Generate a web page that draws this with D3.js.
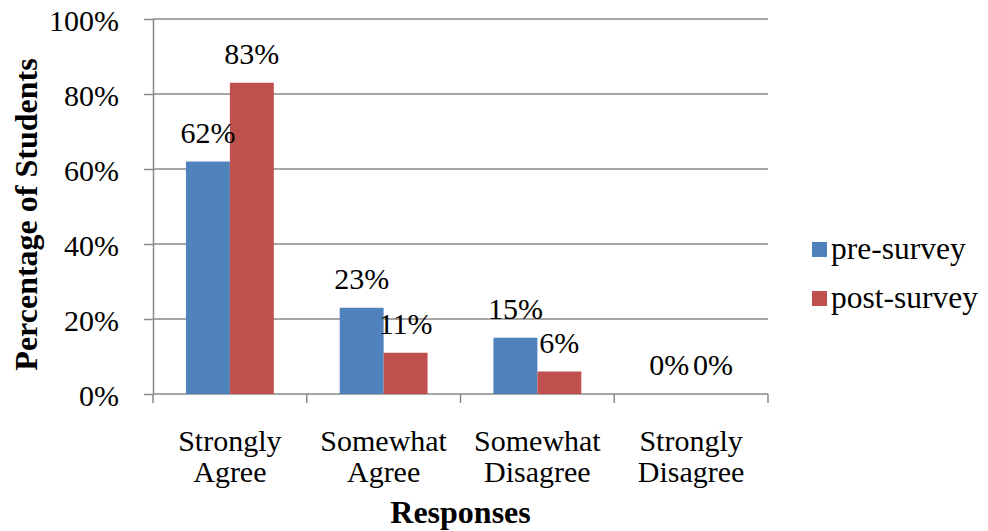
<!DOCTYPE html>
<html>
<head>
<meta charset="utf-8">
<script src="https://cdn.jsdelivr.net/npm/d3@7"></script>
<style>
  html, body { margin: 0; padding: 0; background: #fff; }
  svg { display: block; }
  svg text { font-family: "Liberation Serif", "Times New Roman", serif !important; fill: #000; }
</style>
</head>
<body>
<svg id="chart" width="988" height="531"></svg>
<script>
// Survey responses: share of students per answer, before and after
const categories = [["Strongly", "Agree"], ["Somewhat", "Agree"], ["Somewhat", "Disagree"], ["Strongly", "Disagree"]];
const seriesNames = ["pre-survey", "post-survey"];
const preSurvey = [0.62, 0.23, 0.15, 0.00];
const postSurvey = [0.83, 0.11, 0.06, 0.00];
const yTicks = [0, 0.2, 0.4, 0.6, 0.8, 1.0];
const colors = ["#4F81BD", "#C0504D"];

const svg = d3.select("#chart");
const margin = { left: 153, right: 220, top: 19, bottom: 137 };
const W = 988, H = 531;
const plotW = W - margin.left - margin.right;
const plotH = H - margin.top - margin.bottom;
const g = svg.append("g").attr("transform", `translate(${margin.left},${margin.top})`);

const axisColor = "#898989";
const fontSize = 30;
const legendSize = 31.5;
const titleSize = 32;
const pct = d3.format(".0%");

const catKeys = categories.map((c, i) => i);
const x = d3.scaleBand().domain(catKeys).range([0, plotW]).paddingInner(0).paddingOuter(0);
const xInner = d3.scaleBand().domain(seriesNames).range([0, x.bandwidth()]).paddingInner(0).paddingOuter(0.75);
const y = d3.scaleLinear().domain([0, 1]).range([plotH, 0]);

// horizontal gridlines
g.append("g").selectAll("line").data(yTicks.filter(d => d > 0)).join("line")
  .attr("x1", 0).attr("x2", plotW)
  .attr("y1", d => y(d)).attr("y2", d => y(d))
  .attr("stroke", axisColor).attr("stroke-width", 1.5);

// y axis
const yAxis = g.append("g")
  .call(d3.axisLeft(y).tickValues(yTicks).tickFormat(pct).tickSize(9).tickPadding(25).tickSizeOuter(0));
yAxis.attr("font-family", null).attr("font-size", null);
yAxis.select(".domain").attr("stroke", axisColor).attr("stroke-width", 1.5);
yAxis.selectAll(".tick line").attr("stroke", axisColor).attr("stroke-width", 1.5);
yAxis.selectAll(".tick text")
  .attr("font-size", fontSize).attr("fill", "#000").attr("dy", "0.38em");

// x axis baseline and category boundary ticks
const boundaries = catKeys.map(k => x(k)).concat([x(catKeys[catKeys.length - 1]) + x.bandwidth()]);
g.append("line").attr("x1", 0).attr("x2", plotW).attr("y1", plotH).attr("y2", plotH)
  .attr("stroke", axisColor).attr("stroke-width", 1.5);
g.append("g").selectAll("line").data(boundaries).join("line")
  .attr("x1", d => d).attr("x2", d => d).attr("y1", plotH).attr("y2", plotH + 9)
  .attr("stroke", axisColor).attr("stroke-width", 1.5);

// bars
const rows = catKeys.map(i => ({ i, values: [preSurvey[i], postSurvey[i]] }));
const groups = g.append("g").selectAll("g").data(rows).join("g")
  .attr("transform", d => `translate(${x(d.i)},0)`);
groups.selectAll("rect").data(d => d.values.map((v, s) => ({ v, s }))).join("rect")
  .attr("x", d => xInner(seriesNames[d.s]))
  .attr("width", xInner.bandwidth())
  .attr("y", d => y(d.v))
  .attr("height", d => plotH - y(d.v))
  .attr("fill", d => colors[d.s]);

// value labels
groups.selectAll("text.val").data(d => d.values.map((v, s) => ({ v, s }))).join("text")
  .attr("class", "val")
  .attr("x", d => xInner(seriesNames[d.s]) + xInner.bandwidth() / 2)
  .attr("y", d => y(d.v) - 19)
  .attr("text-anchor", "middle")
  .attr("font-size", fontSize)
  .text(d => pct(d.v));

// category labels (two lines)
const catLabels = g.append("g").selectAll("text").data(catKeys).join("text")
  .attr("x", d => x(d) + x.bandwidth() / 2)
  .attr("y", plotH + 57)
  .attr("text-anchor", "middle")
  .attr("font-size", fontSize);
catLabels.selectAll("tspan").data(d => categories[d]).join("tspan")
  .attr("x", function () { return d3.select(this.parentNode).attr("x"); })
  .attr("dy", (d, i) => i === 0 ? 0 : 31)
  .text(d => d);

// axis titles
svg.append("text")
  .attr("x", margin.left + plotW / 2).attr("y", 523)
  .attr("text-anchor", "middle").attr("font-size", titleSize).attr("font-weight", "bold")
  .text("Responses");
svg.append("text")
  .attr("transform", `translate(37,${margin.top + plotH / 2 + 8}) rotate(-90)`)
  .attr("text-anchor", "middle").attr("font-size", titleSize).attr("font-weight", "bold")
  .text("Percentage of Students");

// legend
const legend = svg.append("g").attr("transform", "translate(812,242)");
const items = legend.selectAll("g").data(seriesNames).join("g")
  .attr("transform", (d, i) => `translate(0,${i * 49})`);
items.append("rect").attr("width", 15).attr("height", 15).attr("fill", (d, i) => colors[i]);
items.append("text").attr("x", 19).attr("y", 17).attr("font-size", legendSize).text(d => d);
</script>
</body>
</html>
